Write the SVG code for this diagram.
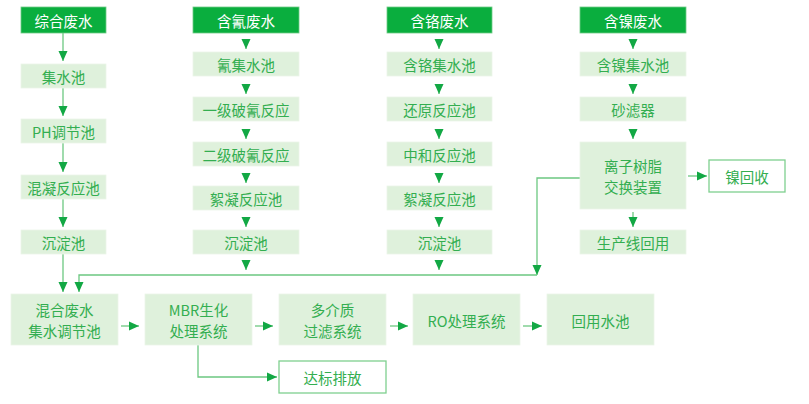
<svg xmlns="http://www.w3.org/2000/svg" width="809" height="404" viewBox="0 0 809 404">
<style>
.hd{fill:#0aae3e;stroke:#6fcb85;stroke-width:0.8}
.bx{fill:#dff1dc;stroke:#eaf6e8;stroke-width:0.8}
.ob{fill:#ffffff;stroke:#7fd08f;stroke-width:1.3}
text{font-family:"Noto Sans CJK SC","Microsoft YaHei",sans-serif;font-size:14.5px;text-anchor:middle;dominant-baseline:central}
.ht{fill:#ffffff}
.bt{fill:#33ae50}
.ln{fill:none;stroke:#6cc881;stroke-width:1.3;marker-end:url(#ah)}
</style>
<defs>
<marker id="ah" markerUnits="userSpaceOnUse" markerWidth="11" markerHeight="10" refX="10" refY="5" orient="auto" viewBox="0 0 11 10">
<path d="M0,0.5 L10,5 L0,9.5 z" fill="#12a844"/>
</marker>
</defs>
<g id="connectors">
<path class="ln" d="M63,33 V61"/>
<path class="ln" d="M63,88 V116"/>
<path class="ln" d="M63,143 V172"/>
<path class="ln" d="M63,199 V227"/>
<path class="ln" d="M63,253 V292"/>
<path class="ln" d="M246,39 V49"/>
<path class="ln" d="M246,84 V94"/>
<path class="ln" d="M246,129 V139"/>
<path class="ln" d="M246,173 V183"/>
<path class="ln" d="M246,217 V227"/>
<path class="ln" d="M246,260 V270"/>
<path class="ln" d="M439,39 V49"/>
<path class="ln" d="M439,84 V94"/>
<path class="ln" d="M439,129 V139"/>
<path class="ln" d="M439,173 V183"/>
<path class="ln" d="M439,217 V227"/>
<path class="ln" d="M439,260 V270"/>
<path class="ln" d="M633,39 V49"/>
<path class="ln" d="M633,84 V94"/>
<path class="ln" d="M633,129 V139"/>
<path class="ln" d="M633,212 V227"/>
<path class="ln" d="M688,176 H707"/>
<path class="ln" d="M580,178 H537 V275"/>
<path class="ln" d="M537,275 H79 V292"/>
<path class="ln" d="M121,326 H139"/>
<path class="ln" d="M255,326 H273"/>
<path class="ln" d="M390,326 H408"/>
<path class="ln" d="M523,326 H542"/>
<path class="ln" d="M198,345 V377 H277"/>
</g>
<g id="n_zonghe"><rect class="hd" x="21" y="7" width="85" height="26"/><text class="ht" x="63.5" y="20">综合废水</text></g>
<g id="n_jishuichi"><rect class="bx" x="21" y="64" width="85" height="24"/><text class="bt" x="63.5" y="76">集水池</text></g>
<g id="n_ph"><rect class="bx" x="21" y="119" width="85" height="24"/><text class="bt" x="63.5" y="131">PH调节池</text></g>
<g id="n_hunning"><rect class="bx" x="21" y="175" width="85" height="24"/><text class="bt" x="63.5" y="187">混凝反应池</text></g>
<g id="n_chendian1"><rect class="bx" x="21" y="230" width="85" height="24"/><text class="bt" x="63.5" y="242">沉淀池</text></g>

<g id="n_hanqing"><rect class="hd" x="193" y="7" width="106" height="26"/><text class="ht" x="246" y="20">含氰废水</text></g>
<g id="n_qingji"><rect class="bx" x="193" y="52" width="106" height="24"/><text class="bt" x="246" y="64">氰集水池</text></g>
<g id="n_yiji"><rect class="bx" x="193" y="97" width="106" height="24"/><text class="bt" x="246" y="109">一级破氰反应</text></g>
<g id="n_erji"><rect class="bx" x="193" y="142" width="106" height="24"/><text class="bt" x="246" y="154">二级破氰反应</text></g>
<g id="n_xuning2"><rect class="bx" x="193" y="186" width="106" height="24"/><text class="bt" x="246" y="198">絮凝反应池</text></g>
<g id="n_chendian2"><rect class="bx" x="193" y="230" width="106" height="24"/><text class="bt" x="246" y="242">沉淀池</text></g>

<g id="n_hange"><rect class="hd" x="387" y="7" width="105" height="26"/><text class="ht" x="439.5" y="20">含铬废水</text></g>
<g id="n_hangeji"><rect class="bx" x="387" y="52" width="105" height="24"/><text class="bt" x="439.5" y="64">含铬集水池</text></g>
<g id="n_huanyuan"><rect class="bx" x="387" y="97" width="105" height="24"/><text class="bt" x="439.5" y="109">还原反应池</text></g>
<g id="n_zhonghe"><rect class="bx" x="387" y="142" width="105" height="24"/><text class="bt" x="439.5" y="154">中和反应池</text></g>
<g id="n_xuning3"><rect class="bx" x="387" y="186" width="105" height="24"/><text class="bt" x="439.5" y="198">絮凝反应池</text></g>
<g id="n_chendian3"><rect class="bx" x="387" y="230" width="105" height="24"/><text class="bt" x="439.5" y="242">沉淀池</text></g>

<g id="n_hannie"><rect class="hd" x="580" y="7" width="106" height="26"/><text class="ht" x="633" y="20">含镍废水</text></g>
<g id="n_hannieji"><rect class="bx" x="580" y="52" width="106" height="24"/><text class="bt" x="633" y="64">含镍集水池</text></g>
<g id="n_shalv"><rect class="bx" x="580" y="97" width="106" height="24"/><text class="bt" x="633" y="109">砂滤器</text></g>
<g id="n_lizi"><rect class="bx" x="580" y="142" width="106" height="67"/><text class="bt" x="633" y="165">离子树脂</text><text class="bt" x="633" y="186">交换装置</text></g>
<g id="n_shengchan"><rect class="bx" x="580" y="230" width="106" height="24"/><text class="bt" x="633" y="242">生产线回用</text></g>
<g id="n_niehuishou"><rect class="ob" x="709" y="160" width="76" height="32"/><text class="bt" x="747" y="176">镍回收</text></g>

<g id="n_hunhe"><rect class="bx" x="11" y="294" width="107" height="51"/><text class="bt" x="64.5" y="309">混合废水</text><text class="bt" x="64.5" y="330">集水调节池</text></g>
<g id="n_mbr"><rect class="bx" x="145" y="294" width="107" height="51"/><text class="bt" x="198.5" y="309">MBR生化</text><text class="bt" x="198.5" y="330">处理系统</text></g>
<g id="n_duojie"><rect class="bx" x="279" y="294" width="107" height="51"/><text class="bt" x="332.5" y="309">多介质</text><text class="bt" x="332.5" y="330">过滤系统</text></g>
<g id="n_ro"><rect class="bx" x="413" y="294" width="107" height="51"/><text class="bt" x="466.5" y="320">RO处理系统</text></g>
<g id="n_huiyong"><rect class="bx" x="547" y="294" width="107" height="51"/><text class="bt" x="600.5" y="320">回用水池</text></g>
<g id="n_dabiao"><rect class="ob" x="279" y="361" width="107" height="32"/><text class="bt" x="332.5" y="377">达标排放</text></g>
</svg>
